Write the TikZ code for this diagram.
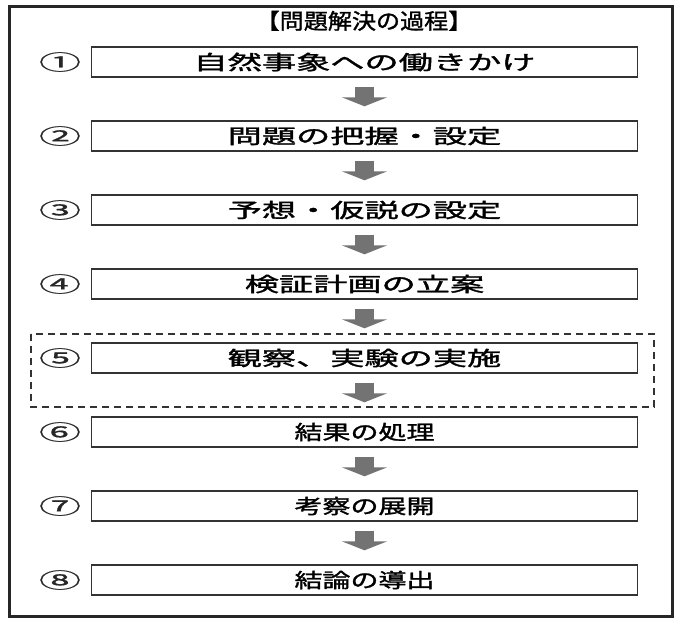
\documentclass[tikz,border=0pt]{standalone}
\usepackage{fontspec}
\usepackage{graphicx}
\newfontfamily\jp[FakeBold=1.3]{Noto Sans CJK JP}
\newfontfamily\jpn[FakeBold=0.6]{Noto Sans CJK JP}
\usetikzlibrary{arrows.meta,calc}
\newcommand{\bt}[2]{\scalebox{#1}[1]{\jp\fontsize{20pt}{20pt}\selectfont #2}}
\newcommand{\ttl}[1]{\scalebox{1.12}[1]{\jp\fontsize{21.5pt}{21.5pt}\selectfont #1}}
\newcommand{\cn}[1]{\scalebox{2.0}[1]{\jpn\fontsize{21pt}{21pt}\selectfont #1}}
\tikzset{
  stepbox/.style={draw=black!80, line width=1.4pt, minimum width=546pt, minimum height=30pt, inner sep=0pt, fill=white},
  numlabel/.style={inner sep=0pt, text=black!85},
  blockarrow/.style={draw=black!55, line width=19pt, -{Triangle[width=45pt,length=9pt]}, shorten <=9pt, shorten >=14pt},
}
\begin{document}
\begin{tikzpicture}[x=1pt,y=-1pt]
\useasboundingbox (0,0) rectangle (674,619);
\fill[white] (0,0) rectangle (674,619);
\draw[line width=3pt, black!85] (9,6) rectangle (672,616);
\node[inner sep=0pt, anchor=base] (title) at (364,29) {\ttl{【問題解決の過程】}};
% dashed group around step 5
\draw[black!80, line width=1.2pt, dash pattern=on 7pt off 5pt] (31,334) rectangle (654,407);
\node[stepbox] (b1) at (364.5,62) {\bt{1.71}{自然事象への働きかけ}};
\node[stepbox] (b2) at (364.5,136) {\bt{1.71}{問題の把握・設定}};
\node[stepbox] (b3) at (364.5,210) {\bt{1.71}{予想・仮説の設定}};
\node[stepbox] (b4) at (364.5,284) {\bt{1.71}{検証計画の立案}};
\node[stepbox] (b5) at (364.5,358) {\bt{1.71}{観察、実験の実施}};
\node[stepbox] (b6) at (364.5,432) {\bt{1.4}{結果の処理}};
\node[stepbox] (b7) at (364.5,506) {\bt{1.4}{考察の展開}};
\node[stepbox] (b8) at (364.5,580) {\bt{1.4}{結論の導出}};
\node[numlabel] (n1) at (60,62) {\cn{①}};
\node[numlabel] (n2) at (60,136) {\cn{②}};
\node[numlabel] (n3) at (60,210) {\cn{③}};
\node[numlabel] (n4) at (60,284) {\cn{④}};
\node[numlabel] (n5) at (60,358) {\cn{⑤}};
\node[numlabel] (n6) at (60,432) {\cn{⑥}};
\node[numlabel] (n7) at (60,506) {\cn{⑦}};
\node[numlabel] (n8) at (60,580) {\cn{⑧}};
\foreach \a/\b in {b1/b2,b2/b3,b3/b4,b4/b5,b5/b6,b6/b7,b7/b8}
  \draw[blockarrow] (\a.south) -- (\b.north);
\end{tikzpicture}
\end{document}
